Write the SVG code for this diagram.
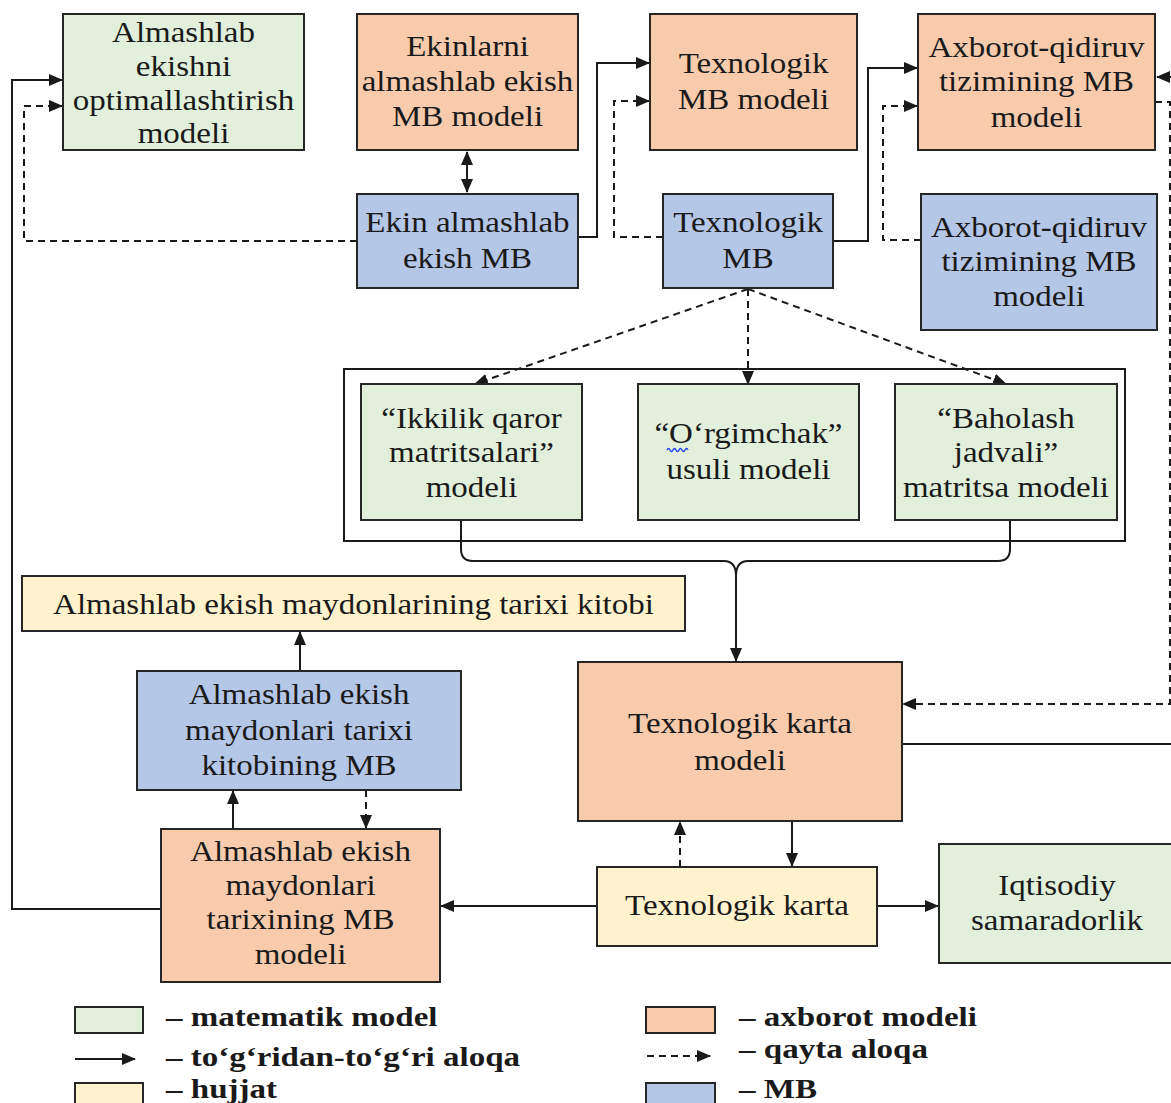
<svg xmlns="http://www.w3.org/2000/svg" width="1171" height="1103" viewBox="0 0 1171 1103">
<style>
.box{stroke:#262626;stroke-width:2}
.g{fill:#E2EFDA}.o{fill:#F8CBAD}.b{fill:#B4C7E7}.y{fill:#FFF2CC}
.t{font-family:"Liberation Serif","Times New Roman",serif;font-size:30px;fill:#1a1a1a;text-anchor:middle}
.lg{font-family:"Liberation Serif","Times New Roman",serif;font-size:28px;font-weight:bold;fill:#1a1a1a}
.c{fill:none;stroke:#1a1a1a;stroke-width:2}
.d{stroke-dasharray:7 5}
.a{marker-end:url(#ah)}
</style>
<defs>
<marker id="ah" markerUnits="userSpaceOnUse" markerWidth="14" markerHeight="12" viewBox="0 0 14 12" refX="13" refY="6" orient="auto-start-reverse">
<path d="M0,0 L14,6 L0,12 z" fill="#1a1a1a"/>
</marker>
</defs>
<rect width="1171" height="1103" fill="#fff"/>

<g id="n-container"><rect x="344" y="369" width="781" height="172" fill="#fff" stroke="#1a1a1a" stroke-width="2"/></g>

<g id="connectors">
<path class="c a" d="M161,909 H12 V80 H62"/>
<path class="c d a" d="M357,241 H24 V106 H62"/>
<path class="c" d="M467,152 V192" marker-start="url(#ah)" marker-end="url(#ah)"/>
<path class="c a" d="M578,237 H597 V63 H649"/>
<path class="c d a" d="M663,237 H614 V101 H649"/>
<path class="c a" d="M833,241 H868 V68 H917"/>
<path class="c d a" d="M921,240 H883 V106 H917"/>
<path class="c a" d="M902,744 H1185 V77 H1157"/>
<path class="c d a" d="M1155,102 H1170 V704 H903"/>
<path class="c d a" d="M748,289 L475,384"/>
<path class="c d a" d="M748,289 V384"/>
<path class="c d a" d="M748,289 L1006,384"/>
<path class="c" stroke="#333" stroke-width="2.5" d="M461,520 V549 Q461,561 473,561 H724 Q736,561 736,576"/>
<path class="c" stroke="#333" stroke-width="2.5" d="M1010,520 V549 Q1010,561 998,561 H748 Q736,561 736,576"/>
<path class="c a" d="M736,575 V661"/>
<path class="c a" d="M300,671 V632"/>
<path class="c a" d="M233,829 V791"/>
<path class="c d a" d="M366,790 V828"/>
<path class="c a" d="M597,906 H441"/>
<path class="c a" d="M877,906 H938"/>
<path class="c d a" d="M680,867 V822"/>
<path class="c a" d="M792,821 V866"/>
</g>

<g id="n-optimallashtirish">
<rect class="box g" x="63" y="14" width="241" height="136"/>
<text class="t" transform="translate(183.5,42) scale(1.1,1)"><tspan x="0" dy="0">Almashlab</tspan><tspan x="0" dy="34">ekishni</tspan><tspan x="0" dy="34">optimallashtirish</tspan><tspan x="0" dy="33">modeli</tspan></text>
</g>

<g id="n-ekinlarni-model">
<rect class="box o" x="357" y="14" width="221" height="136"/>
<text class="t" transform="translate(467.5,56) scale(1.1,1)"><tspan x="0" dy="0">Ekinlarni</tspan><tspan x="0" dy="35">almashlab ekish</tspan><tspan x="0" dy="35">MB modeli</tspan></text>
</g>

<g id="n-texnologik-mb-modeli">
<rect class="box o" x="650" y="14" width="207" height="136"/>
<text class="t" transform="translate(753.5,73) scale(1.1,1)"><tspan x="0" dy="0">Texnologik</tspan><tspan x="0" dy="36">MB modeli</tspan></text>
</g>

<g id="n-axborot-model">
<rect class="box o" x="918" y="14" width="237" height="136"/>
<text class="t" transform="translate(1036.5,57) scale(1.1,1)"><tspan x="0" dy="0">Axborot-qidiruv</tspan><tspan x="0" dy="34">tizimining MB</tspan><tspan x="0" dy="36">modeli</tspan></text>
</g>

<g id="n-ekin-mb">
<rect class="box b" x="357" y="194" width="221" height="94"/>
<text class="t" transform="translate(467.5,232) scale(1.1,1)"><tspan x="0" dy="0">Ekin almashlab</tspan><tspan x="0" dy="36">ekish MB</tspan></text>
</g>

<g id="n-texnologik-mb">
<rect class="box b" x="663" y="194" width="170" height="94"/>
<text class="t" transform="translate(748,232) scale(1.1,1)"><tspan x="0" dy="0">Texnologik</tspan><tspan x="0" dy="36">MB</tspan></text>
</g>

<g id="n-axborot-mb">
<rect class="box b" x="921" y="194" width="236" height="136"/>
<text class="t" transform="translate(1039,237) scale(1.1,1)"><tspan x="0" dy="0">Axborot-qidiruv</tspan><tspan x="0" dy="34">tizimining MB</tspan><tspan x="0" dy="35">modeli</tspan></text>
</g>

<g id="n-ikkilik">
<rect class="box g" x="361" y="384" width="221" height="136"/>
<text class="t" transform="translate(471.5,428) scale(1.1,1)"><tspan x="0" dy="0">“Ikkilik qaror</tspan><tspan x="0" dy="34">matritsalari”</tspan><tspan x="0" dy="35">modeli</tspan></text>
</g>

<g id="n-orgimchak">
<rect class="box g" x="638" y="384" width="221" height="136"/>
<text class="t" transform="translate(748.5,443) scale(1.1,1)"><tspan x="0" dy="0">“O‘rgimchak”</tspan><tspan x="0" dy="36">usuli modeli</tspan></text>
<path d="M667,450 q1.5,-3 3,0 t3,0 t3,0 t3,0 t3,0 t3,0 t3,0" fill="none" stroke="#2040ff" stroke-width="1.4"/>
</g>

<g id="n-baholash">
<rect class="box g" x="895" y="384" width="222" height="136"/>
<text class="t" transform="translate(1006,428) scale(1.1,1)"><tspan x="0" dy="0">“Baholash</tspan><tspan x="0" dy="34">jadvali”</tspan><tspan x="0" dy="35">matritsa modeli</tspan></text>
</g>

<g id="n-tarixi-kitobi">
<rect class="box y" x="22" y="576" width="663" height="55"/>
<text class="t" transform="translate(353.5,614) scale(1.1,1)">Almashlab ekish maydonlarining tarixi kitobi</text>
</g>

<g id="n-kitob-mb">
<rect class="box b" x="137" y="671" width="324" height="119"/>
<text class="t" transform="translate(299,704) scale(1.1,1)"><tspan x="0" dy="0">Almashlab ekish</tspan><tspan x="0" dy="36">maydonlari tarixi</tspan><tspan x="0" dy="35">kitobining MB</tspan></text>
</g>

<g id="n-karta-modeli">
<rect class="box o" x="578" y="662" width="324" height="159"/>
<text class="t" transform="translate(740,733) scale(1.1,1)"><tspan x="0" dy="0">Texnologik karta</tspan><tspan x="0" dy="37">modeli</tspan></text>
</g>

<g id="n-tarix-mb-modeli">
<rect class="box o" x="161" y="829" width="279" height="153"/>
<text class="t" transform="translate(300.5,861) scale(1.1,1)"><tspan x="0" dy="0">Almashlab ekish</tspan><tspan x="0" dy="34">maydonlari</tspan><tspan x="0" dy="34">tarixining MB</tspan><tspan x="0" dy="35">modeli</tspan></text>
</g>

<g id="n-karta">
<rect class="box y" x="597" y="867" width="280" height="79"/>
<text class="t" transform="translate(737,915) scale(1.1,1)">Texnologik karta</text>
</g>

<g id="n-iqtisodiy">
<rect class="box g" x="939" y="844" width="240" height="119"/>
<text class="t" transform="translate(1057,895) scale(1.1,1)"><tspan x="0" dy="0">Iqtisodiy</tspan><tspan x="0" dy="35">samaradorlik</tspan></text>
</g>

<g id="legend">
<rect class="box g" x="75" y="1007" width="68" height="26"/>
<text class="lg" transform="translate(166,1026) scale(1.18,1)">– matematik model</text>
<path class="c a" d="M75,1059 H135"/>
<text class="lg" transform="translate(166,1066) scale(1.18,1)">– to‘g‘ridan-to‘g‘ri aloqa</text>
<rect class="box y" x="75" y="1083" width="68" height="30"/>
<text class="lg" transform="translate(166,1098) scale(1.18,1)">– hujjat</text>
<rect class="box o" x="646" y="1007" width="69" height="26"/>
<text class="lg" transform="translate(739,1026) scale(1.18,1)">– axborot modeli</text>
<path class="c d a" d="M647,1056 H710" stroke-dasharray="4 4"/>
<text class="lg" transform="translate(739,1058) scale(1.18,1)">– qayta aloqa</text>
<rect class="box b" x="646" y="1083" width="69" height="30"/>
<text class="lg" transform="translate(739,1098) scale(1.18,1)">– MB</text>
</g>
</svg>
